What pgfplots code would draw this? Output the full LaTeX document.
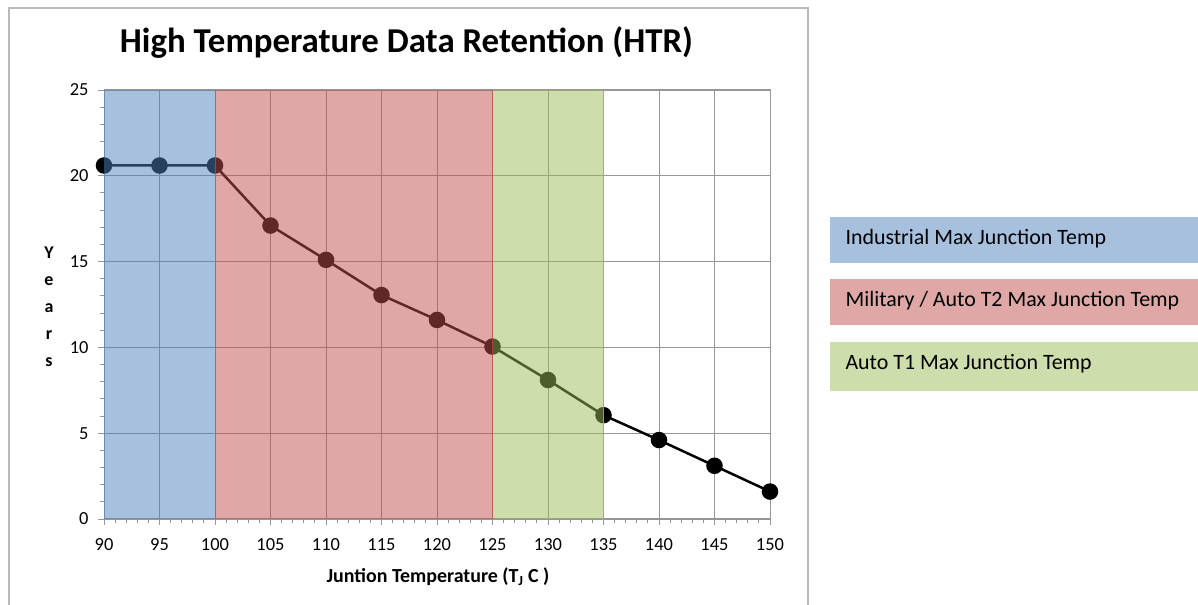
\documentclass[border=0pt]{standalone}
\usepackage{fontspec}
\setmainfont{Carlito}
\usepackage{pgfplots}
\pgfplotsset{compat=1.18}
\definecolor{xlblue}{RGB}{79,129,189}
\definecolor{xlred}{RGB}{192,80,77}
\definecolor{xlgreen}{RGB}{155,187,89}
\definecolor{gridgray}{RGB}{150,150,150}
\begin{document}
\begin{tikzpicture}[x=1bp,y=1bp]
\path[use as bounding box] (0,0) rectangle (1198,605);
\draw[gray!55, line width=1.2bp] (9,0) -- (9,597) -- (808,597) -- (808,0);
\node[font=\fontsize{35}{40}\selectfont\bfseries, anchor=base] at (406.5,552) {High Temperature Data Retention (HTR)};
\begin{axis}[
  at={(104bp,86bp)}, anchor=south west, scale only axis,
  width=666bp, height=429bp,
  xmin=90, xmax=150, ymin=0, ymax=25,
  xtick={90,95,...,150}, ytick={0,5,...,25},
  minor x tick num=4, minor y tick num=4,
  tick pos=left, tick align=outside,
  major tick length=6bp, minor tick length=4bp,
  grid=major, major grid style={gridgray, line width=0.9bp},
  axis line style={gridgray, line width=1bp},
  tick style={gridgray, line width=0.9bp},
  /pgf/number format/assume math mode=true,
  tick label style={font=\fontsize{18.5}{20}\selectfont},
  xticklabel style={yshift=-10bp},
  yticklabel style={xshift=-6bp},
  clip=false, clip marker paths=true,
]
\addplot[black, line width=2.5bp, mark=*, mark size=7bp] coordinates {
(90,20.6) (95,20.6) (100,20.6) (105,17.1) (110,15.1) (115,13.05) (120,11.6)
(125,10.05) (130,8.1) (135,6.05) (140,4.6) (145,3.1) (150,1.6)};
\addplot[draw=none, fill=xlblue, fill opacity=0.5] coordinates {(90,0) (90,25) (100,25) (100,0)} -- cycle;
\addplot[draw=none, fill=xlred, fill opacity=0.5] coordinates {(100,0) (100,25) (125,25) (125,0)} -- cycle;
\addplot[draw=none, fill=xlgreen, fill opacity=0.5] coordinates {(125,0) (125,25) (135,25) (135,0)} -- cycle;
\addplot[xlblue, opacity=0.6, line width=1bp] coordinates {(100,0) (100,25)};
\addplot[xlred, opacity=0.6, line width=1bp] coordinates {(125,0) (125,25)};
\addplot[xlgreen, opacity=0.8, line width=1bp] coordinates {(135,0) (135,25)};
\end{axis}
\node[font=\fontsize{18}{27}\selectfont\bfseries, align=center] at (49,298) {Y\\e\\a\\r\\s};
\node[font=\fontsize{20}{24}\selectfont\bfseries] at (438,28) {Juntion Temperature (T\textsubscript{J} C )};
\fill[xlblue!50] (830,342) rectangle (1198,388);
\fill[xlred!50] (830,280) rectangle (1198,326);
\fill[xlgreen!50] (830,214) rectangle (1198,263);
\node[font=\fontsize{22}{24}\selectfont, anchor=west] at (842,366) {Industrial Max Junction Temp};
\node[font=\fontsize{22}{24}\selectfont, anchor=west] at (842,304) {Military / Auto T2 Max Junction Temp};
\node[font=\fontsize{22}{24}\selectfont, anchor=west] at (842,241) {Auto T1 Max Junction Temp};
\end{tikzpicture}
\end{document}
